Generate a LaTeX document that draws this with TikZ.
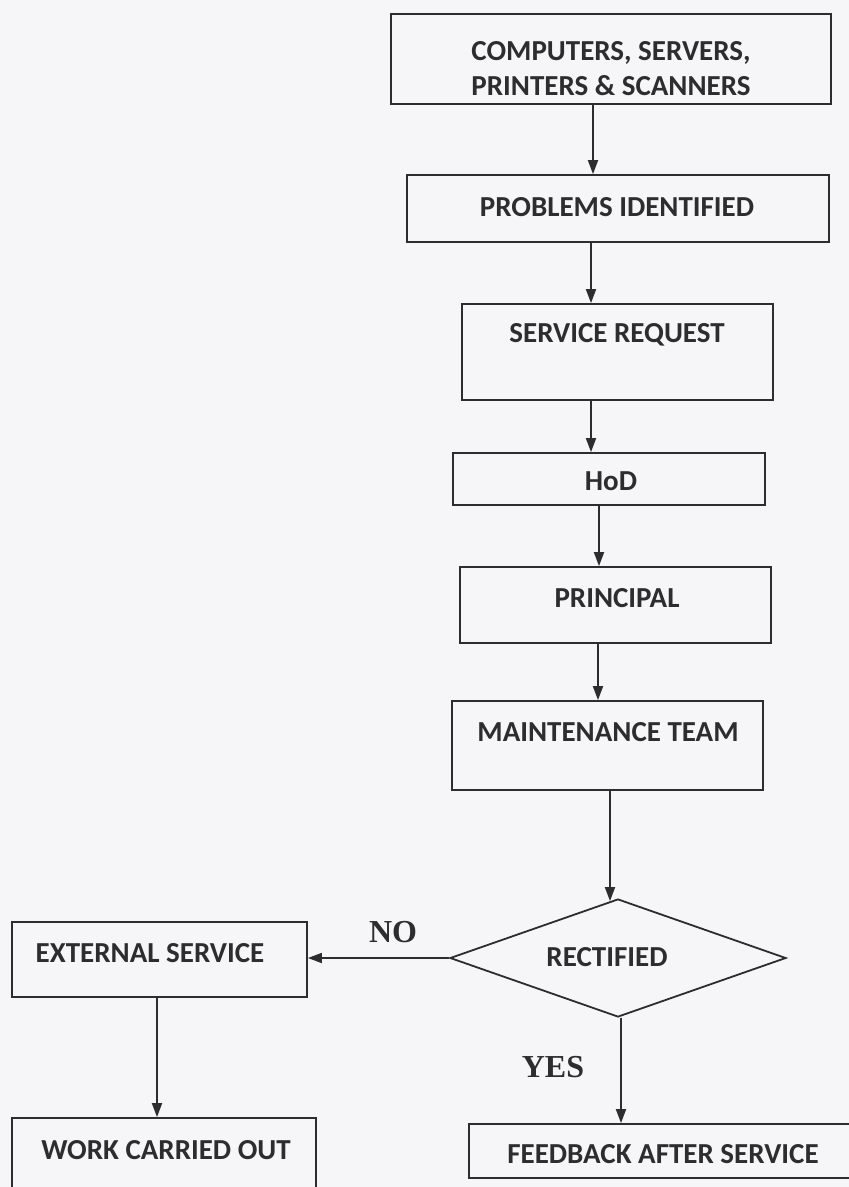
\documentclass[tikz,border=0pt]{standalone}
\usepackage{fontspec}
\setmainfont{Carlito}
\newfontfamily\serifb{Liberation Serif}
\usetikzlibrary{arrows.meta,shapes.geometric}
\definecolor{ink}{RGB}{45,45,45}
\definecolor{paper}{RGB}{246,246,249}
\tikzset{
  box/.style={draw=ink, line width=1.8pt, rectangle, inner sep=0pt},
  lbl/.style={text=ink, font=\fontsize{29}{35}\selectfont\bfseries, align=center, inner sep=0pt},
  yn/.style={text=ink, font=\fontsize{32}{36}\selectfont\serifb\bfseries, inner sep=0pt},
  arr/.style={draw=ink, line width=1.8pt, -{Triangle[length=14pt,width=10pt]}},
}
\begin{document}
\begin{tikzpicture}[x=1pt,y=-1pt]
\fill[paper] (0,0) rectangle (849,1187);
\useasboundingbox (0,0) rectangle (849,1187);
\clip (0,0) rectangle (849,1187);
% boxes
\node[box, minimum width=440pt, minimum height=90pt] (b1) at (611,59) {};
\node[lbl] (t1) at (611,69) {COMPUTERS, SERVERS,\\PRINTERS \& SCANNERS};
\node[box, minimum width=422pt, minimum height=67pt] (b2) at (618,208.5) {};
\node[lbl] (t2) at (617,207) {PROBLEMS IDENTIFIED};
\node[box, minimum width=311pt, minimum height=96pt] (b3) at (617.5,352) {};
\node[lbl] (t3) at (617,335) {SERVICE REQUEST};
\node[box, minimum width=312pt, minimum height=52pt] (b4) at (609,479) {};
\node[lbl] (t4) at (611,481) {HoD};
\node[box, minimum width=311pt, minimum height=76pt] (b5) at (615.5,605) {};
\node[lbl] (t5) at (617,598) {PRINCIPAL};
\node[box, minimum width=311pt, minimum height=89pt] (b6) at (607.5,745.5) {};
\node[lbl] (t6) at (608,732) {MAINTENANCE TEAM};
\node[draw=ink, line width=1.8pt, diamond, aspect=2.85, minimum width=336pt, minimum height=118pt, inner sep=0pt] (dia) at (618,958) {};
\node[lbl] (t7) at (607,957) {RECTIFIED};
\node[box, minimum width=295pt, minimum height=75pt] (b7) at (159.5,959.5) {};
\node[lbl] (t8) at (150,953) {EXTERNAL SERVICE};
\node[box, minimum width=304pt, minimum height=82pt] (b8) at (164,1159) {};
\node[lbl] (t9) at (166,1150) {WORK CARRIED OUT};
\node[box, minimum width=401pt, minimum height=54pt] (b9) at (669.5,1151) {};
\node[lbl] (t10) at (663,1154) {FEEDBACK AFTER SERVICE};
% labels
\node[yn] (no) at (393,932) {NO};
\node[yn] (yes) at (553,1067) {YES};
% arrow x positions
\coordinate (x1) at (593,0);
\coordinate (x2) at (591,0);
\coordinate (x3) at (591,0);
\coordinate (x4) at (599,0);
\coordinate (x5) at (598,0);
\coordinate (x6) at (610,0);
\coordinate (x8) at (621,0);
\coordinate (x9) at (157,0);
\draw[arr] (b1.south -| x1) -- (b2.north -| x1);
\draw[arr] (b2.south -| x2) -- (b3.north -| x2);
\draw[arr] (b3.south -| x3) -- (b4.north -| x3);
\draw[arr] (b4.south -| x4) -- (b5.north -| x4);
\draw[arr] (b5.south -| x5) -- (b6.north -| x5);
\draw[arr] (b6.south -| x6) -- ([yshift=-3pt]dia.north -| x6);
\draw[arr] (dia.west) -- (dia.west -| b7.east);
\draw[arr] (dia.south -| x8) -- (b9.north -| x8);
\draw[arr] (b7.south -| x9) -- (b8.north -| x9);
\end{tikzpicture}
\end{document}
